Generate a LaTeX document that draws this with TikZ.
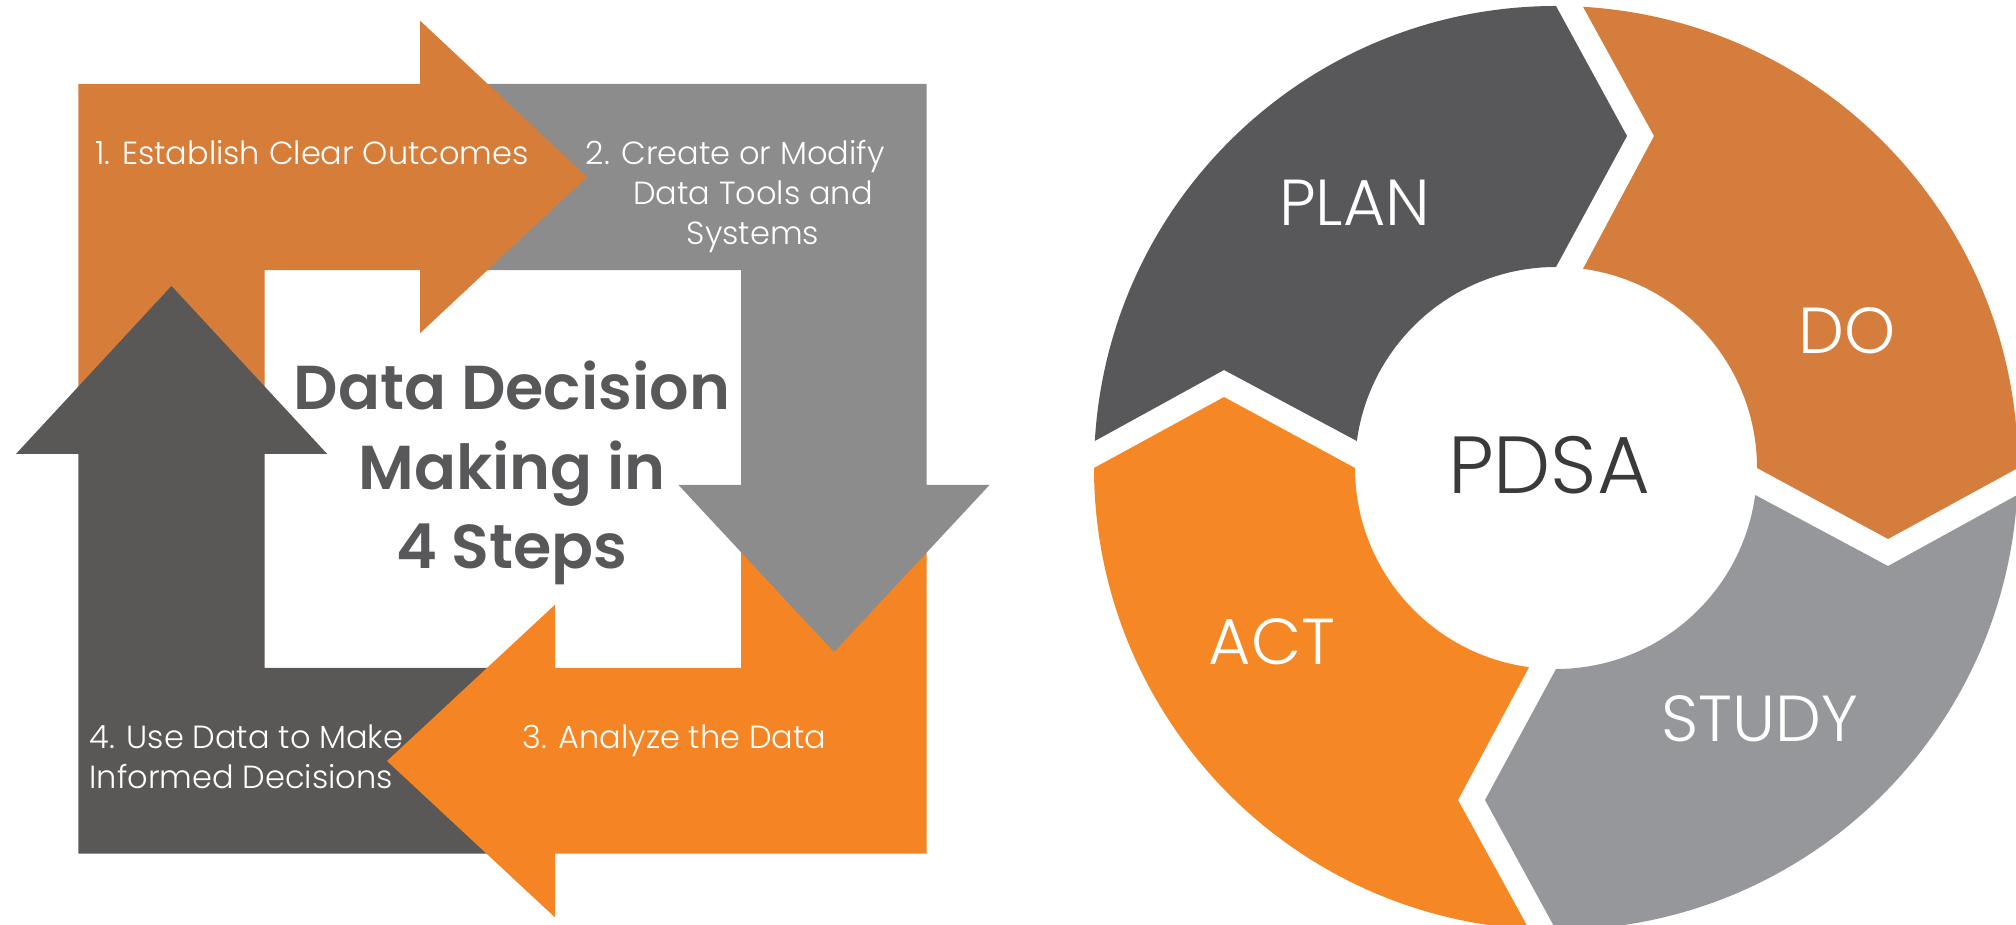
\documentclass[tikz,border=0pt]{standalone}
\usepackage{fontspec}
\setmainfont{Poppins}[UprightFont=* Light, BoldFont=* SemiBold]
\definecolor{stepone}{HTML}{D67D3A}
\definecolor{steptwo}{HTML}{8C8C8C}
\definecolor{stepthree}{HTML}{F58524}
\definecolor{stepfour}{HTML}{5A5856}
\definecolor{titlegray}{HTML}{58585A}
\definecolor{plangray}{HTML}{58585B}
\definecolor{doorange}{HTML}{D57D3D}
\definecolor{studygray}{HTML}{96979A}
\definecolor{actorange}{HTML}{F58724}
\definecolor{pdsatext}{HTML}{3A3A3C}
\begin{document}
\begin{tikzpicture}
        [x=1pt, y=1pt,
         step_text/.style={text=white, font=\fontsize{32}{40}\selectfont, inner sep=0pt},
         title_text/.style={text=titlegray, font=\fontsize{62}{79.5}\selectfont\bfseries, align=center, inner sep=0pt},
         cycle_text/.style={text=white, font=\fontsize{65}{70}\selectfont, inner sep=0pt}]
            \useasboundingbox (0,0) rectangle (2016,925);
            \fill[stepone] (78.4,841.2) -- (424,841.2) -- (424,654.8) -- (264.7,654.8) -- (264.7,475) -- (78.4,475) -- cycle;
            \fill[steptwo] (424,841.2) -- (926.7,841.2) -- (926.7,436) -- (741.1,436) -- (741.1,654.8) -- (424,654.8) -- cycle;
            \fill[stepthree] (926.7,436) -- (926.7,71.3) -- (551,71.3) -- (551,257.2) -- (741.1,257.2) -- (741.1,436) -- cycle;
            \fill[stepfour] (551,71.3) -- (78.4,71.3) -- (78.4,475) -- (264.7,475) -- (264.7,257.2) -- (551,257.2) -- cycle;
            \fill[stepone] (420,904.4) -- (587,748) -- (420,591.7) -- cycle;
            \fill[steptwo] (678.5,440) -- (989.5,440) -- (834,273) -- cycle;
            \fill[stepthree] (555,320.3) -- (387,164) -- (555,7.6) -- cycle;
            \fill[stepfour] (15.9,471) -- (327.2,471) -- (171.5,639) -- cycle;
            \node[step_text, anchor=base] (s1) at (312,760.5) {1. Establish Clear Outcomes};
            \node[step_text, align=center, anchor=base] (s2) at (753,680.5) {\llap{2. }Create or Modify\\Data Tools and\\Systems};
            \node[step_text, anchor=base] (s3) at (674.5,176) {3. Analyze the Data};
            \node[step_text, align=left, anchor=base west] (s4) at (89.3,136) {4. Use Data to Make\\Informed Decisions};
            \node[title_text, anchor=base] (title) at (512,356) {Data Decision\\Making in\\4 Steps};
            \coordinate (pdsa_c) at (1556,457);
            \foreach \rot/\col in {0/plangray, -90/doorange, 180/studygray, 90/actorange}
              \fill[\col, shift={(pdsa_c)}, rotate=\rot] (90:462) -- (71,332) -- (90:201)
                arc[start angle=90, end angle=172.28, radius=201] -- (-332,98) -- (176.65:462)
                arc[start angle=176.65, end angle=90, radius=462] -- cycle;
            \node[cycle_text] (plan) at (1354.6,722.3) {PLAN};
            \node[cycle_text] (do) at (1847,594.6) {DO};
            \node[cycle_text] (study) at (1759.5,206.4) {STUDY};
            \node[cycle_text] (act) at (1271.8,283) {ACT};
            \node[cycle_text, text=pdsatext, font=\fontsize{81}{90}\selectfont] (pdsa) at (1549,460) {PDSA};
\end{tikzpicture}
\end{document}
